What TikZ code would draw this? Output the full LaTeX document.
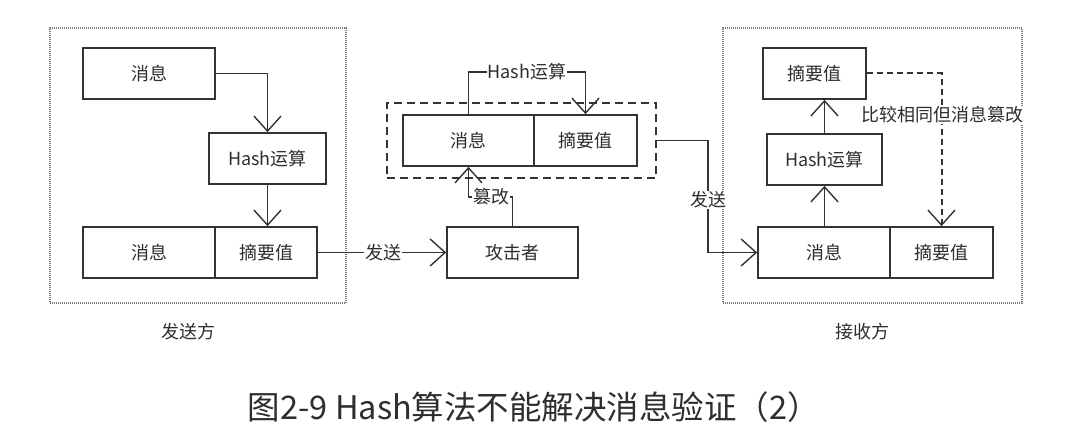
\documentclass[tikz,border=0pt]{standalone}
\usepackage{fontspec}
\setmainfont{Noto Sans CJK SC}
\usetikzlibrary{arrows.meta}
\definecolor{linec}{HTML}{333333}
\definecolor{textc}{HTML}{2E2E2E}
\definecolor{dotc}{HTML}{7A7A7A}
\begin{document}
\begin{tikzpicture}[x=1pt,y=-1pt,
  box/.style={draw=linec, line width=1.7pt, rectangle, inner sep=0pt, minimum height=51pt, text=textc, font=\fontsize{18}{20}\selectfont},
  arr/.style={draw=linec, line width=1.6pt, -{Straight Barb[length=15pt,width=27pt,line width=1.4pt]}},
  lbl/.style={fill=white, inner sep=1pt, text=textc, font=\fontsize{18}{20}\selectfont},
  outer/.style={draw=dotc, line width=1.2pt, dash pattern=on 1pt off 1pt, rectangle, inner sep=0pt},
  sidelabel/.style={text=textc, font=\fontsize{18}{20}\selectfont}]
\useasboundingbox (0,0) rectangle (1068,436);
\fill[white] (0,0) rectangle (1068,436);

% sender
\node[outer, minimum width=296pt, minimum height=275pt] (sbox) at (198,165.5) {};
\node[box, minimum width=132pt] (m1) at (149,73.5) {消息};
\node[box, minimum width=117pt] (h1) at (267.5,158.5) {Hash运算};
\node[box, minimum width=132pt] (p1a) at (149,252.5) {消息};
\node[box, minimum width=102pt] (p1b) at (266,252.5) {摘要值};
\draw[arr] (m1.east) -| (h1.north);
\draw[arr] (h1.south) -- (h1.south |- p1b.north);
\node[sidelabel] (slabel) at (188,332) {发送方};

% attacker
\node[draw=linec, line width=2pt, dash pattern=on 8pt off 5pt, rectangle, inner sep=0pt, minimum width=269pt, minimum height=75pt] (db) at (521.5,140.5) {};
\node[box, minimum width=131pt] (p2a) at (468.5,140.5) {消息};
\node[box, minimum width=103pt] (p2b) at (585.5,140.5) {摘要值};
\coordinate (ht) at (527,72);
\draw[arr] (p2a.north) |- (ht) -| (p2b.north);
\node[lbl] (hl) at (ht) {Hash运算};
\node[box, minimum width=131pt] (att) at (512.5,252.5) {攻击者};
\coordinate (tg) at (491,197);
\draw[arr] (att.north) |- (tg) -| (p2a.south);
\node[lbl] (tl) at (tg) {篡改};
\draw[arr] (p1b.east) -- (att.west);
\node[lbl] (s1) at (383,252.5) {发送};

% receiver
\node[outer, minimum width=299pt, minimum height=275pt] (rbox) at (872.5,165.5) {};
\node[box, minimum width=103pt] (r1) at (814.5,73.5) {摘要值};
\node[box, minimum width=115pt] (rh) at (824.5,159.5) {Hash运算};
\node[box, minimum width=132pt] (rpa) at (824,252.5) {消息};
\node[box, minimum width=103pt] (rpb) at (941.5,252.5) {摘要值};
\draw[arr] (rpa.north -| rh.south) -- (rh.south);
\draw[arr] (rh.north) -- (rh.north |- r1.south);
\draw[arr, line width=2pt, dash pattern=on 6pt off 4pt] (r1.east) -| (rpb.north);
\node[lbl] (cmp) at (942,115) {比较相同但消息篡改};
\coordinate (bend) at (708,140.5);
\draw[arr] (db.east) -- (bend) |- (rpa.west);
\node[lbl] (s2) at (708,200) {发送};
\node[sidelabel] (rlabel) at (862,332) {接收方};

% caption
\node[text=textc, font=\fontsize{32.5}{36}\selectfont] (caption) at (534,407) {图2-9 Hash算法不能解决消息验证（2）};
\end{tikzpicture}
\end{document}
